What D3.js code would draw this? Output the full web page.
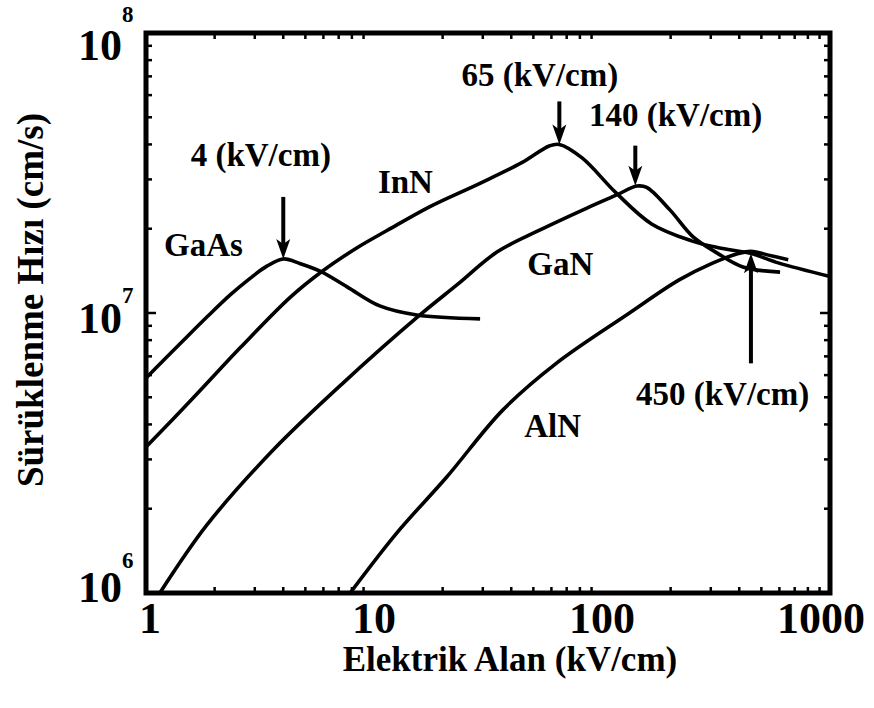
<!DOCTYPE html>
<html>
<head>
<meta charset="utf-8">
<script src="https://cdn.jsdelivr.net/npm/d3@7"></script>
<style>
  body { margin: 0; background: #fff; }
</style>
</head>
<body>
<svg id="chart" width="874" height="708"></svg>
<script>
// drift velocity vs electric field
// field in kV/cm, velocity in cm/s
let gaasField = [1, 1.45, 1.85, 2.34, 2.86, 3.39, 4.0, 4.75, 5.8, 7.62, 10.6, 15.4, 29.2];
let gaasVel = [5.86e6, 7.94e6, 9.67e6, 1.16e7, 1.33e7, 1.47e7, 1.56e7, 1.5e7, 1.41e7, 1.24e7, 1.06e7, 9.84e6, 9.53e6];

let innField = [1, 1.62, 2.6, 4.3, 5.93, 8.43, 11.4, 17.6, 29, 44.7, 58.7, 65, 81.8, 115, 165, 247, 324, 452, 593, 1000];
let innVel = [3.32e6, 5.0e6, 7.54e6, 1.14e7, 1.41e7, 1.71e7, 1.97e7, 2.4e7, 2.9e7, 3.45e7, 3.95e7, 4.0e7, 3.58e7, 2.69e7, 2.08e7, 1.81e7, 1.71e7, 1.63e7, 1.51e7, 1.35e7];

let ganField = [1.15, 1.85, 3.61, 7.31, 15.9, 23.1, 34.6, 53.5, 85.9, 116, 142, 157, 199, 251, 319, 415, 604];
let ganVel = [1.0e6, 1.75e6, 3.24e6, 5.62e6, 9.84e6, 1.26e7, 1.65e7, 1.98e7, 2.37e7, 2.64e7, 2.84e7, 2.81e7, 2.33e7, 1.87e7, 1.64e7, 1.46e7, 1.4e7];

let alnField = [7.86, 12.6, 20.8, 36.6, 63, 131, 217, 302, 396, 450, 552, 656];
let alnVel = [1.0e6, 1.64e6, 2.59e6, 4.49e6, 6.61e6, 9.96e6, 1.31e7, 1.5e7, 1.63e7, 1.66e7, 1.6e7, 1.55e7];

// peak markers (field, velocity at the peak)
let peakField = [4, 65, 140, 450];
let peakVel = [1.56e7, 4.0e7, 2.85e7, 1.66e7];
let peakText = ["4 (kV/cm)", "65 (kV/cm)", "140 (kV/cm)", "450 (kV/cm)"];
let peakTextField = [1.57, 24.2, 87.7, 141];
let peakTextVel = [3.36e7, 6.47e7, 4.66e7, 4.68e6];

let curveNames = ["GaAs", "InN", "GaN", "AlN"];
let nameField = [1.2, 10.4, 47, 45.6];
let nameVel = [1.6e7, 2.69e7, 1.37e7, 3.6e6];

let xTicks = [1, 10, 100, 1000];
let yTicks = [1e6, 1e7, 1e8];
let yExp = ["6", "7", "8"];

let svg = d3
  .select("#chart")
  .attr("font-family", "Liberation Serif")
  .attr("font-weight", "bold");

let x = d3.scaleLog().domain([1, 1000]).range([146, 830]);
let y = d3.scaleLog().domain([1e6, 1e8]).range([593, 33]);

let line = d3
  .line()
  .x(d => x(d[0]))
  .y(d => y(d[1]))
  .curve(d3.curveCatmullRom.alpha(0.5));

let series = [
  d3.zip(gaasField, gaasVel),
  d3.zip(innField, innVel),
  d3.zip(ganField, ganVel),
  d3.zip(alnField, alnVel)
];

svg
  .append("g")
  .selectAll("path")
  .data(series)
  .enter()
  .append("path")
  .attr("d", line)
  .attr("fill", "none")
  .attr("stroke", "#000")
  .attr("stroke-width", 3.6)
  .attr("stroke-linejoin", "round");

// minor ticks on every side, pointing inward
let minorX = [];
for (let d = 1; d < 1000; d *= 10)
  for (let k = 2; k <= 9; k++) minorX.push(d * k);
let minorY = [];
for (let d = 1e6; d < 1e8; d *= 10)
  for (let k = 2; k <= 9; k++) minorY.push(d * k);

let ticks = svg.append("g").attr("stroke", "#000").attr("stroke-width", 2.5);
[593, 33].forEach((yy, i) => {
  ticks
    .selectAll(null)
    .data(minorX)
    .enter()
    .append("line")
    .attr("x1", d => x(d))
    .attr("x2", d => x(d))
    .attr("y1", yy)
    .attr("y2", i == 0 ? yy - 6 : yy + 6);
});
[146, 830].forEach((xx, i) => {
  ticks
    .selectAll(null)
    .data(minorY)
    .enter()
    .append("line")
    .attr("y1", d => y(d))
    .attr("y2", d => y(d))
    .attr("x1", xx)
    .attr("x2", i == 0 ? xx + 6 : xx - 6);
  ticks
    .selectAll(null)
    .data(yTicks)
    .enter()
    .append("line")
    .attr("y1", d => y(d))
    .attr("y2", d => y(d))
    .attr("x1", xx)
    .attr("x2", i == 0 ? xx + 10 : xx - 10);
});

// frame
svg
  .append("rect")
  .attr("x", x(1))
  .attr("y", y(1e8))
  .attr("width", x(1000) - x(1))
  .attr("height", y(1e6) - y(1e8))
  .attr("fill", "none")
  .attr("stroke", "#000")
  .attr("stroke-width", 5);

// x tick labels
let xDx = [4, 0, 0, -9];
svg
  .append("g")
  .selectAll("text")
  .data(xTicks)
  .enter()
  .append("text")
  .attr("x", (d, i) => x(d) + xDx[i])
  .attr("y", 633)
  .attr("text-anchor", "middle")
  .attr("font-size", 44)
  .text(d => d);

// y tick labels as 10 with a raised exponent
let yDy = [9, 20, 27];
let yLab = svg.append("g");
yLab
  .selectAll("text.base")
  .data(yTicks)
  .enter()
  .append("text")
  .attr("class", "base")
  .attr("x", 122)
  .attr("y", (d, i) => y(d) + yDy[i])
  .attr("text-anchor", "end")
  .attr("font-size", 44)
  .text("10");
let expDy = [-34, -30, -38];
yLab
  .selectAll("text.exp")
  .data(yTicks)
  .enter()
  .append("text")
  .attr("class", "exp")
  .attr("x", 122)
  .attr("y", (d, i) => y(d) + yDy[i] + expDy[i])
  .attr("font-size", 23)
  .text((d, i) => yExp[i]);

// curve names
svg
  .append("g")
  .selectAll("text")
  .data(curveNames)
  .enter()
  .append("text")
  .attr("x", (d, i) => x(nameField[i]))
  .attr("y", (d, i) => y(nameVel[i]))
  .attr("font-size", 33)
  .text(d => d);

// peak arrows: down onto the curve, except the last which points up from below
let arrowLen = [62, 43, 40, 110];
let arrows = svg.append("g");
peakField.forEach((f, i) => {
  let px = x(f);
  let py = y(peakVel[i]);
  let up = i == 3;
  let tip = up ? py + 2 : py;
  let tail = up ? tip + arrowLen[i] : tip - arrowLen[i];
  let s = up ? 1 : -1;
  arrows
    .append("line")
    .attr("x1", px)
    .attr("x2", px)
    .attr("y1", tail)
    .attr("y2", tip + s * 10)
    .attr("stroke", "#000")
    .attr("stroke-width", 4);
  arrows
    .append("path")
    .attr(
      "d",
      `M${px},${tip} L${px - 7},${tip + s * 20} L${px},${tip + s * 15} L${px + 7},${tip + s * 20} Z`
    )
    .attr("fill", "#000");
});

svg
  .append("g")
  .selectAll("text")
  .data(peakText)
  .enter()
  .append("text")
  .attr("x", (d, i) => x(peakTextField[i]))
  .attr("y", (d, i) => y(peakTextVel[i]))
  .attr("font-size", 33)
  .text(d => d);

// axis titles
svg
  .append("text")
  .attr("x", 510)
  .attr("y", 671)
  .attr("text-anchor", "middle")
  .attr("font-size", 35)
  .text("Elektrik Alan (kV/cm)");

svg
  .append("text")
  .attr("transform", "translate(43,300) rotate(-90)")
  .attr("text-anchor", "middle")
  .attr("font-size", 37)
  .text("Sürüklenme Hızı (cm/s)");
</script>
</body>
</html>
